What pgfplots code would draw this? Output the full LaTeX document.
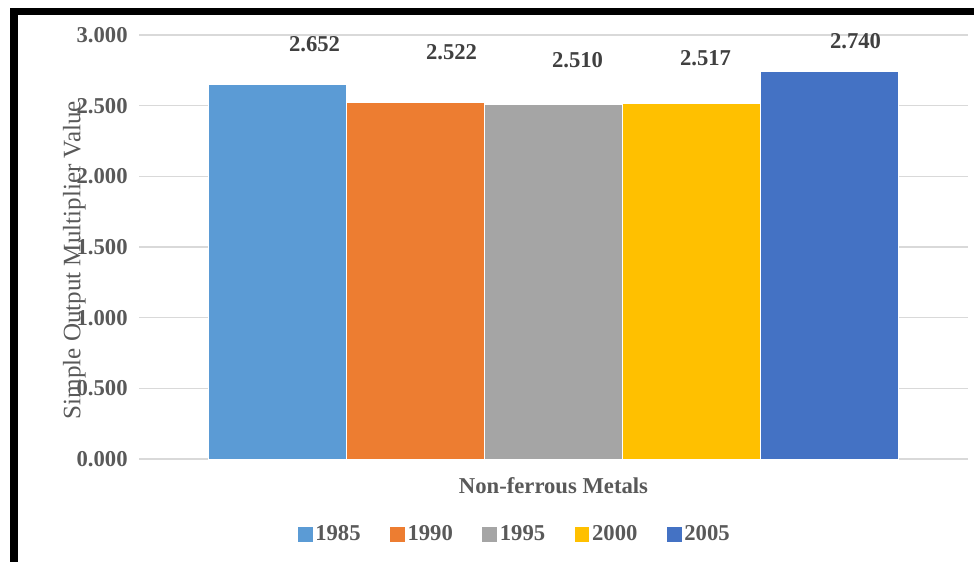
\documentclass[border=0pt]{standalone}
\usepackage{pgfplots}
\pgfplotsset{compat=1.18}
\usepackage{fontspec}
\setmainfont{Liberation Serif}

\definecolor{c85}{HTML}{5B9BD5}
\definecolor{c90}{HTML}{ED7D31}
\definecolor{c95}{HTML}{A5A5A5}
\definecolor{c00}{HTML}{FFC000}
\definecolor{c05}{HTML}{4472C4}
\definecolor{txt}{HTML}{595959}
\definecolor{lbl}{HTML}{404040}
\definecolor{gridc}{HTML}{D9D9D9}

\newcommand{\chartfont}{\fontsize{17}{20}\selectfont}

\begin{document}
\begin{tikzpicture}
% page frame: 730.5pt x 421.5pt
\useasboundingbox (0pt,0pt) rectangle (730.5pt,421.5pt);
\fill[white] (0pt,0pt) rectangle (730.5pt,421.5pt);
% thick black frame on the top and left
\fill[black] (7.5pt,410.25pt) rectangle (730.5pt,415.5pt);
\fill[black] (7.5pt,0pt) rectangle (13.5pt,415.5pt);

\begin{axis}[
  at={(104.25pt,77.25pt)}, anchor=south west,
  scale only axis,
  width=621.75pt, height=318pt,
  xmin=-1, xmax=1,
  ymin=0, ymax=3,
  ytick={0,0.5,...,3},
  ymajorgrids,
  grid style={gridc, line width=1pt},
  axis line style={draw=none},
  major tick style={draw=none},
  xtick=\empty,
  ybar=0pt,
  bar width=103.5pt,
  /pgf/number format/assume math mode=true,
  yticklabel style={
    /pgf/number format/fixed,
    /pgf/number format/fixed zerofill,
    /pgf/number format/precision=3,
    font=\chartfont\bfseries, text=txt, xshift=-5pt},
  ylabel={Simple Output Multiplier Value},
  ylabel style={font=\fontsize{18.8}{22}\selectfont, text=txt, at={(axis description cs:-0.078,0.469)}, anchor=center, rotate=0},
  xlabel={Non-ferrous Metals},
  xlabel style={font=\chartfont\bfseries, text=txt, at={(axis description cs:0.5,-0.0625)}, anchor=center},
  nodes near coords,
  point meta=explicit symbolic,
  nodes near coords style={font=\chartfont\bfseries, text=lbl, anchor=center},
  legend columns=5,
  legend style={
    at={(axis description cs:0.4536,-0.177)}, anchor=center,
    draw=none, fill=none,
    font=\chartfont\bfseries, text=txt,
    /tikz/every even column/.append style={column sep=20pt}},
  legend image code/.code={\fill[#1,draw=none] (0pt,-5.6pt) rectangle (11.2pt,5.6pt);},
]
\addplot[fill=c85, draw=white, line width=0.4pt,
  nodes near coords style={xshift=27.75pt, yshift=30pt}]
  coordinates {(0,2.652) [2.652]};
\addplot[fill=c90, draw=white, line width=0.4pt,
  nodes near coords style={xshift=27pt, yshift=37.5pt}]
  coordinates {(0,2.522) [2.522]};
\addplot[fill=c95, draw=white, line width=0.4pt,
  nodes near coords style={xshift=18pt, yshift=33pt}]
  coordinates {(0,2.510) [2.510]};
\addplot[fill=c00, draw=white, line width=0.4pt,
  nodes near coords style={xshift=10.5pt, yshift=33.75pt}]
  coordinates {(0,2.517) [2.517]};
\addplot[fill=c05, draw=white, line width=0.4pt,
  nodes near coords style={xshift=19.5pt, yshift=23.25pt}]
  coordinates {(0,2.740) [2.740]};
\legend{1985,1990,1995,2000,2005}
\end{axis}
\end{tikzpicture}
\end{document}
